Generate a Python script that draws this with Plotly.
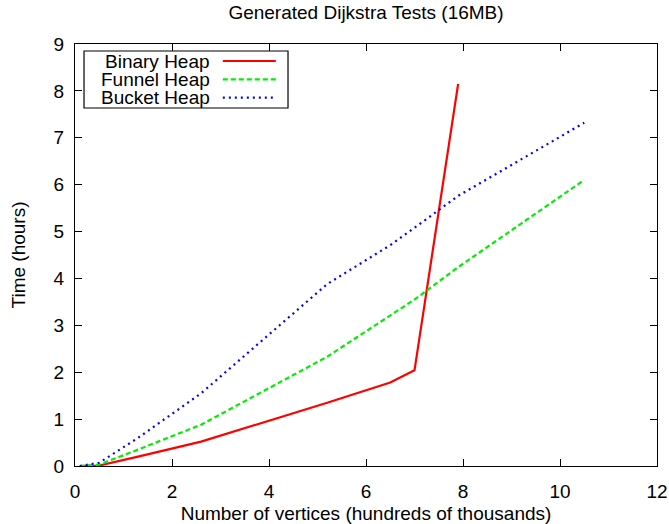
import plotly.graph_objects as go

# Sample sizes in hundreds of thousands of vertices
vertices = [0.1, 0.5, 1.3, 2.6, 5.2, 6.5, 7.0, 7.9, 10.5]

# Running time in hours for each heap implementation
binary_vertices = [0.1, 0.5, 1.3, 2.6, 5.2, 6.5, 7.0, 7.9]
binary_hours = [0.0, 0.01, 0.2, 0.52, 1.35, 1.78, 2.04, 8.15]
funnel_hours = [0.0, 0.03, 0.35, 0.88, 2.33, 3.2, 3.55, 4.24, 6.1]
bucket_hours = [0.0, 0.07, 0.6, 1.55, 3.88, 4.71, 5.08, 5.76, 7.32]

series_names = ["Binary Heap", "Funnel Heap", "Bucket Heap"]
series_colors = ["#ff0000", "#00ee00", "#0000ff"]
series_dash = ["solid", "5px,3px", "2px,4px"]

x_ticks = [0, 2, 4, 6, 8, 10, 12]
y_ticks = [0, 1, 2, 3, 4, 5, 6, 7, 8, 9]

font_family = "Liberation Sans, Arial, sans-serif"
font_size = 19

fig = go.Figure()
xs = [binary_vertices, vertices, vertices]
ys = [binary_hours, funnel_hours, bucket_hours]
for name, x, y, color, dash in zip(series_names, xs, ys, series_colors, series_dash):
    fig.add_trace(go.Scatter(
        x=x, y=y, mode="lines", name=name,
        line=dict(color=color, width=2.2, dash=dash),
        showlegend=False,
    ))

# gnuplot-style key: boxed, labels right-aligned, samples on the right
key_left, key_right = 0.0155, 0.3660
key_top, key_bottom = 0.9834, 0.8483
fig.add_shape(type="rect", xref="paper", yref="paper",
              x0=key_left, x1=key_right, y0=key_bottom, y1=key_top,
              line=dict(color="black", width=1.2), fillcolor="white")
row_y = [0.9597, 0.9160, 0.8730]
for name, color, dash, ry in zip(series_names, series_colors, series_dash, row_y):
    fig.add_annotation(xref="paper", yref="paper", x=0.2330, y=ry,
                       text=name, showarrow=False, xanchor="right", yanchor="middle",
                       borderpad=0,
                       font=dict(family=font_family, size=font_size, color="black"))
    fig.add_shape(type="line", xref="paper", yref="paper",
                  x0=0.2540, x1=0.3450, y0=ry, y1=ry,
                  line=dict(color=color, width=2.2, dash=dash))

axis_common = dict(
    showline=True, linecolor="black", linewidth=1.3, mirror="ticks",
    ticks="inside", ticklen=7, tickwidth=1.2, tickcolor="black",
    showgrid=False, zeroline=False, automargin=False,
    tickfont=dict(family=font_family, size=font_size, color="black"),
)

fig.update_layout(
    width=669, height=524,
    margin=dict(l=75, r=12, t=44, b=58),
    paper_bgcolor="white", plot_bgcolor="white",
    title=dict(text="Generated Dijkstra Tests (16MB)", x=0.5, xref="paper",
               y=0.976, yanchor="middle",
               font=dict(family=font_family, size=font_size, color="black")),
    xaxis=dict(range=[0, 12], tickvals=x_ticks, ticklabelstandoff=8,
               title=dict(text="Number of vertices (hundreds of thousands)", standoff=6,
                          font=dict(family=font_family, size=font_size, color="black")),
               **axis_common),
    yaxis=dict(range=[0, 9], tickvals=y_ticks, ticklabelstandoff=6,
               title=dict(text="Time (hours)", standoff=22,
                          font=dict(family=font_family, size=font_size, color="black")),
               **axis_common),
)

fig.write_html("out.html")
